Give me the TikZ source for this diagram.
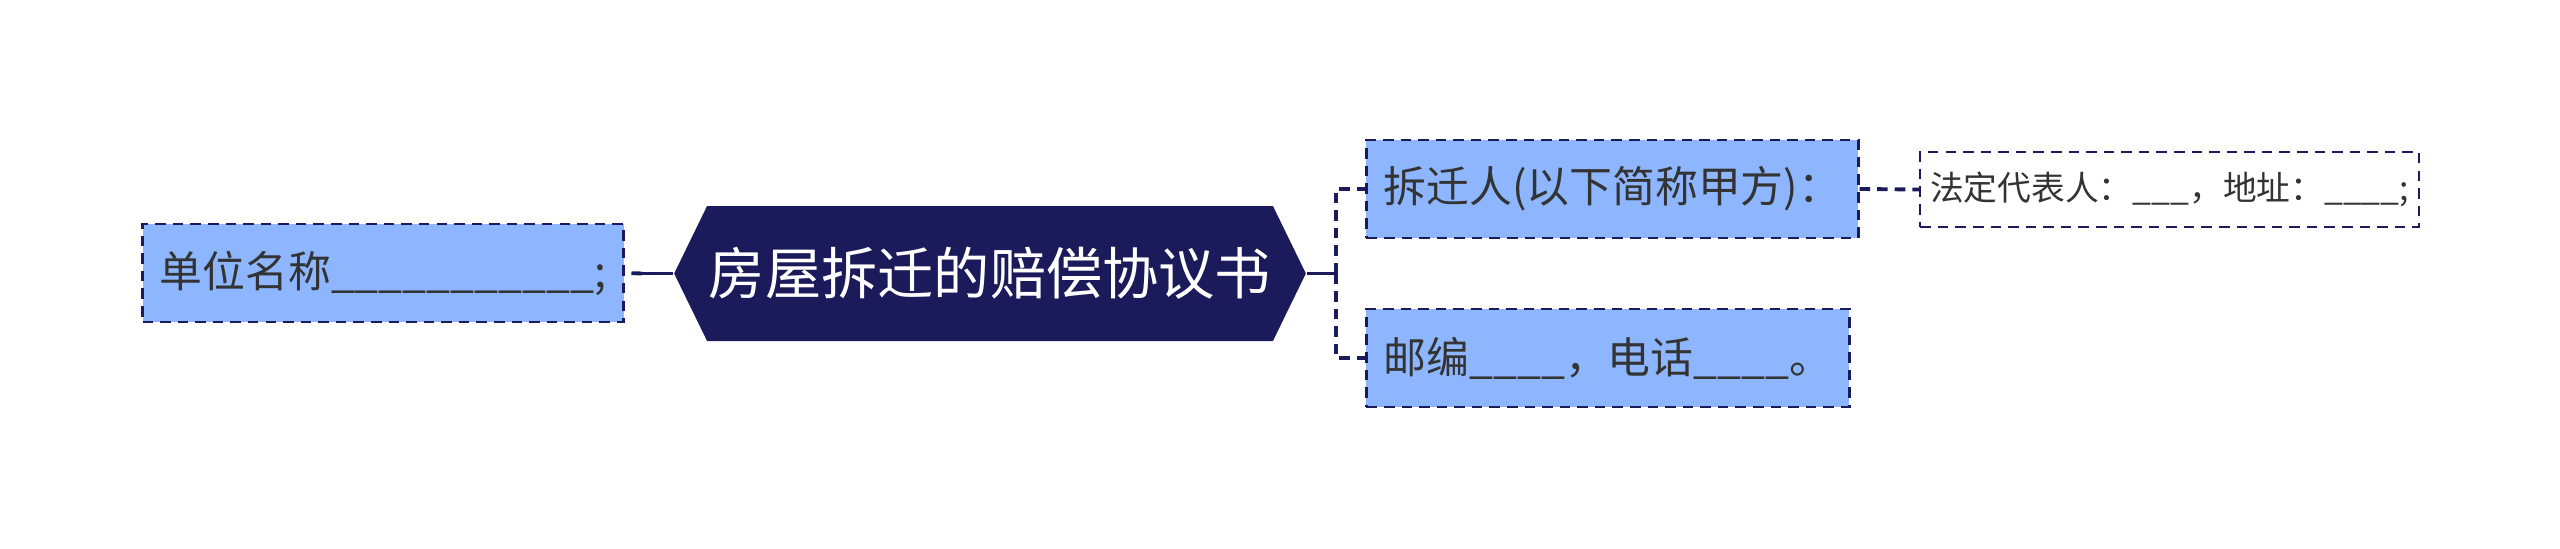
\documentclass[tikz,border=0pt]{standalone}
\usepackage{fontspec}
\setmainfont{Noto Sans CJK SC}
\usetikzlibrary{positioning, shapes.symbols}
\definecolor{RootNavy}{HTML}{1B1A5A}
\definecolor{BoxBlue}{HTML}{8DB6FE}
\definecolor{TextGrey}{HTML}{333333}

\begin{document}
\begin{tikzpicture}[
    every node/.style={font=\fontsize{12.2}{14}\selectfont, text=TextGrey},
    rootnode/.style={signal, signal to=west and east, signal pointer angle=128, fill=RootNavy, text=white, font=\fontsize{16}{19}\selectfont, inner xsep=0.5pt, minimum height=1.35cm},
    topicbox/.style={rectangle, draw=RootNavy, dash pattern=on 3pt off 2pt, line width=0.8pt, fill=BoxBlue, minimum height=0.98cm, inner xsep=0.17cm},
    subbox/.style={rectangle, draw=RootNavy, dash pattern=on 3pt off 2pt, line width=0.7pt, fill=white, minimum height=0.75cm, inner xsep=0.1cm, font=\fontsize{9.6}{12}\selectfont},
    solidlink/.style={draw=RootNavy, line width=1.1pt},
    dashlink/.style={solidlink, dash pattern=on 3pt off 2pt}
  ]
    \useasboundingbox (0,0) rectangle (25.6,5.48);
    \node[rootnode] (root) at (9.9,2.745) {房屋拆迁的赔偿协议书};
    \node[topicbox, anchor=east] (unit) at (6.25,2.75) {单位名称\_\_\_\_\_\_\_\_\_\_\_;};
    \node[topicbox, anchor=west] (party) at (13.65,3.59) {拆迁人(以下简称甲方)：};
    \node[topicbox, anchor=west] (post) at (13.65,1.90) {邮编\_\_\_\_，电话\_\_\_\_。};
    \node[subbox, anchor=west] (legal) at (19.19,3.585) {法定代表人：\_\_\_，地址：\_\_\_\_;};
    \coordinate (lfork) at (6.42,2.745);
    \coordinate (rfork) at (13.36,2.745);
    \draw[solidlink] (root.west) -- (lfork);
    \draw[dashlink] (lfork) -- (unit.east);
    \draw[solidlink] (root.east) -- (rfork);
    \draw[dashlink] (rfork) |- (party.west);
    \draw[dashlink] (rfork) |- (post.west);
    \draw[dashlink] (party.east) -- (legal.west);
  \end{tikzpicture}
\end{document}
